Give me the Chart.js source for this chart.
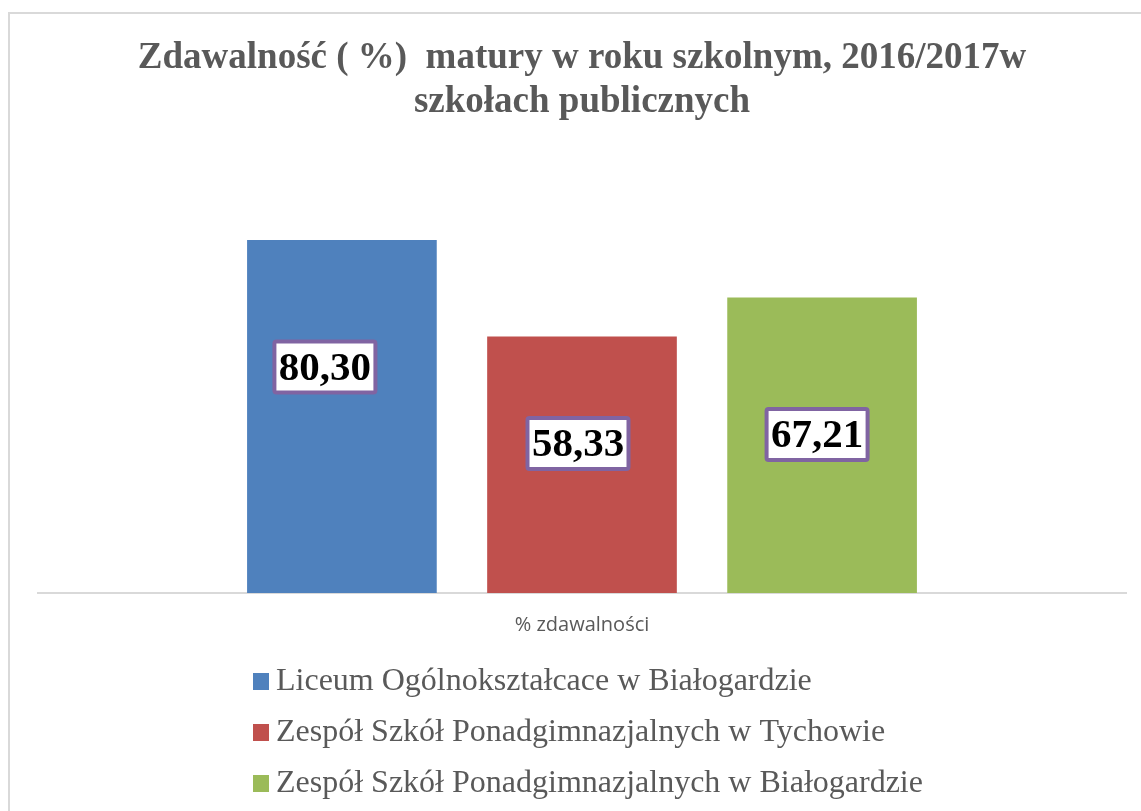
<!DOCTYPE html>
<html>
<head>
<meta charset="utf-8">
<script src="https://cdn.jsdelivr.net/npm/chart.js@4/dist/chart.umd.min.js"></script>
<style>
  html, body { margin: 0; padding: 0; background: #fff; }
  #wrap { position: relative; width: 1141px; height: 811px; }
</style>
</head>
<body>
<div id="wrap"><canvas id="chart" width="1141" height="811"></canvas></div>
<script>
// dane
const categories = ['% zdawalności'];
const schools = [
  'Liceum Ogólnokształcace w Białogardzie',
  'Zespół Szkół Ponadgimnazjalnych w Tychowie',
  'Zespół Szkół Ponadgimnazjalnych w Białogardzie'
];
const values = [80.30, 58.33, 67.21];
const colors = ['#4F81BD', '#C0504D', '#9BBB59'];
const titleLines = ['Zdawalność ( %)  matury w roku szkolnym, 2016/2017w', 'szkołach publicznych'];

// przesuniecia etykiet (px) wzgledem srodka / gory slupka
const labelDX = [-17, -4, -5];
const labelDY = [127, 107, 137];

const ramka = {
  id: 'ramka',
  beforeDraw(chart) {
    const c = chart.ctx;
    c.save();
    c.strokeStyle = '#d9d9d9';
    c.lineWidth = 2;
    c.beginPath();
    c.moveTo(9, 811);
    c.lineTo(9, 13);
    c.lineTo(1141, 13);
    c.stroke();
    c.restore();
  }
};

// etykiety danych w ramce
const etykiety = {
  id: 'etykiety',
  afterDatasetsDraw(chart) {
    const c = chart.ctx;
    c.save();
    c.font = 'bold 41px "Liberation Serif", "Times New Roman", serif';
    c.textAlign = 'center';
    c.textBaseline = 'middle';
    chart.data.datasets.forEach(function(ds, i) {
      const bar = chart.getDatasetMeta(i).data[0];
      const txt = ds.data[0].toFixed(2).replace('.', ',');
      const cx = bar.x + labelDX[i];
      const cy = bar.y + labelDY[i];
      const w = 101, h = 51;
      c.fillStyle = '#fff';
      c.strokeStyle = '#8064A2';
      c.lineWidth = 4;
      c.beginPath();
      c.roundRect(cx - w / 2, cy - h / 2, w, h, 2);
      c.fill();
      c.stroke();
      c.fillStyle = '#000';
      c.fillText(txt, cx, cy + 2);
    });
    c.restore();
  }
};

// legenda pionowa, wyrownana do lewej
const legenda = {
  id: 'legenda',
  afterDraw(chart) {
    const c = chart.ctx;
    c.save();
    c.font = '32px "Liberation Serif", "Times New Roman", serif';
    c.textBaseline = 'middle';
    schools.forEach(function(name, i) {
      const y = 681 + i * 51;
      c.fillStyle = colors[i];
      c.fillRect(253, y - 8, 16, 17);
      c.fillStyle = '#595959';
      c.fillText(name, 276, y + 1);
    });
    c.restore();
  }
};

const datasets = schools.map(function(s, i) {
  return {
    label: s,
    data: [values[i]],
    backgroundColor: colors[i],
    borderWidth: 0,
    categoryPercentage: 0.662,
    barPercentage: 0.79
  };
});

new Chart(document.getElementById('chart'), {
  type: 'bar',
  data: { labels: categories, datasets: datasets },
  options: {
    responsive: false,
    animation: false,
    layout: { padding: { left: 38, right: 15, top: 22, bottom: 162 } },
    plugins: {
      legend: { display: false },
      tooltip: { enabled: false },
      title: {
        display: true,
        text: titleLines,
        color: '#595959',
        font: { family: '"Liberation Serif", "Times New Roman", serif', size: 37, weight: 'bold', lineHeight: 1.18 },
        padding: { top: 15, bottom: 29 }
      }
    },
    scales: {
      x: {
        grid: { display: false },
        border: { color: '#d9d9d9', width: 2 },
        ticks: {
          color: '#595959',
          padding: 12,
          font: { family: '"Liberation Sans Narrow", "Open Sans", sans-serif', size: 20 }
        }
      },
      y: {
        display: false,
        min: 0,
        max: 100
      }
    }
  },
  plugins: [ramka, etykiety, legenda]
});
</script>
</body>
</html>
